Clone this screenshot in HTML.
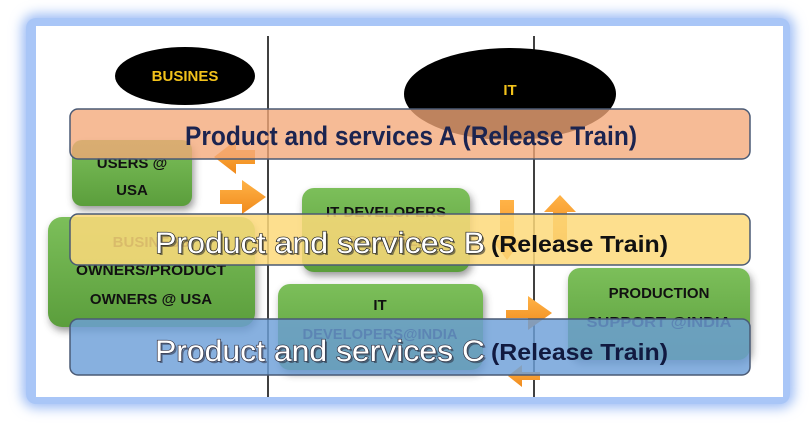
<!DOCTYPE html>
<html><head><meta charset="utf-8"><style>
html,body{margin:0;padding:0;background:#fff;width:812px;height:427px;overflow:hidden}
svg{display:block}
text{font-family:"Liberation Sans",sans-serif;font-weight:bold}
</style></head><body>
<svg width="812" height="427" viewBox="0 0 812 427" xmlns="http://www.w3.org/2000/svg">
<defs>
<filter id="glow" x="-10%" y="-10%" width="120%" height="120%"><feGaussianBlur stdDeviation="6"/></filter>
<filter id="sh" x="-20%" y="-20%" width="140%" height="140%"><feGaussianBlur stdDeviation="4"/></filter>
<linearGradient id="gr" x1="0" y1="0" x2="0" y2="1"><stop offset="0" stop-color="#7cbf5a"/><stop offset="1" stop-color="#5b9e3c"/></linearGradient>
<linearGradient id="or" x1="0" y1="0" x2="0" y2="1"><stop offset="0" stop-color="#ffb347"/><stop offset="1" stop-color="#f08a1c"/></linearGradient>
</defs>
<rect x="22" y="14" width="772" height="394" rx="14" fill="#9cbcf5" filter="url(#glow)"/>
<rect x="26" y="18" width="764" height="386" rx="10" fill="#a9c6f7"/>
<rect x="36" y="26" width="747" height="371" fill="#fff"/>
<line x1="268" y1="36" x2="268" y2="397" stroke="#000" stroke-width="1.5"/>
<line x1="534" y1="36" x2="534" y2="397" stroke="#000" stroke-width="1.5"/>
<ellipse cx="185" cy="76" rx="70" ry="29" fill="#000"/>
<text x="185" y="81" font-size="15" fill="#f2c21b" text-anchor="middle">BUSINES</text>
<ellipse cx="510" cy="94" rx="106" ry="46" fill="#000"/>
<text x="510" y="95" font-size="15" fill="#f2c21b" text-anchor="middle">IT</text>
<g filter="url(#sh)" opacity="0.5">
<rect x="74" y="144" width="120" height="66" rx="10" fill="#333"/>
<rect x="50" y="221" width="207" height="110" rx="14" fill="#333"/>
<rect x="304" y="192" width="168" height="84" rx="12" fill="#333"/>
<rect x="280" y="288" width="205" height="86" rx="12" fill="#333"/>
<rect x="570" y="272" width="182" height="92" rx="12" fill="#333"/>
</g>
<rect x="72" y="140" width="120" height="66" rx="10" fill="url(#gr)"/>
<text x="132" y="168" font-size="15" text-anchor="middle" fill="#111">USERS @</text>
<text x="132" y="195" font-size="15" text-anchor="middle" fill="#111">USA</text>
<rect x="48" y="217" width="207" height="110" rx="14" fill="url(#gr)"/>
<text x="151" y="247" font-size="15" text-anchor="middle" fill="#111">BUSINESS</text>
<text x="151" y="275" font-size="15" text-anchor="middle" fill="#111" textLength="150" lengthAdjust="spacingAndGlyphs">OWNERS/PRODUCT</text>
<text x="151" y="304" font-size="15" text-anchor="middle" fill="#111">OWNERS @ USA</text>
<rect x="302" y="188" width="168" height="84" rx="12" fill="url(#gr)"/>
<text x="386" y="217" font-size="15" text-anchor="middle" fill="#111">IT DEVELOPERS</text>
<text x="386" y="246" font-size="15" text-anchor="middle" fill="#111">@ SWEDEN</text>
<rect x="278" y="284" width="205" height="86" rx="12" fill="url(#gr)"/>
<text x="380" y="310" font-size="15" text-anchor="middle" fill="#111">IT</text>
<text x="380" y="339" font-size="15" text-anchor="middle" fill="#111" textLength="155" lengthAdjust="spacingAndGlyphs">DEVELOPERS@INDIA</text>
<rect x="568" y="268" width="182" height="92" rx="12" fill="url(#gr)"/>
<text x="659" y="298" font-size="15" text-anchor="middle" fill="#111">PRODUCTION</text>
<text x="659" y="327" font-size="15" text-anchor="middle" fill="#111" textLength="145" lengthAdjust="spacingAndGlyphs">SUPPORT @INDIA</text>
<polygon points="255,150 236,150 236,140 214,157 236,174 236,164 255,164" fill="url(#or)"/>
<polygon points="220,190 242,190 242,180 266,197 242,214 242,204 220,204" fill="url(#or)"/>
<polygon points="506,310 528,310 528,296 552,313 528,330 528,318 506,318" fill="url(#or)"/>
<polygon points="500,200 514,200 514,240 522,240 507,260 492,240 500,240" fill="url(#or)"/>
<polygon points="553,240 553,212 544,212 560,195 576,212 567,212 567,240" fill="url(#or)"/>
<polygon points="540,372 522,372 522,365 508,376 522,387 522,380 540,380" fill="url(#or)"/>
<rect x="70" y="109" width="680" height="50" rx="8" fill="#f3a878" fill-opacity="0.78" stroke="#4a5a75" stroke-width="1.5"/>
<text x="185" y="145" font-size="27" fill="#1b2450" textLength="452" lengthAdjust="spacingAndGlyphs">Product and services A (Release Train)</text>
<rect x="70" y="214" width="680" height="51" rx="8" fill="#fdd97a" fill-opacity="0.85" stroke="#4a5a75" stroke-width="1.5"/>
<text x="157" y="255" font-size="30" style="font-weight:normal" fill="#333" opacity="0.6" textLength="330" lengthAdjust="spacingAndGlyphs">Product and services B</text>
<text x="155" y="253" font-size="30" style="font-weight:normal" fill="#fff" stroke="#222" stroke-width="1.3" paint-order="stroke" textLength="330" lengthAdjust="spacingAndGlyphs">Product and services B</text>
<text x="491" y="252" font-size="23" fill="#111" textLength="177" lengthAdjust="spacingAndGlyphs">(Release Train)</text>
<rect x="70" y="319" width="680" height="56" rx="8" fill="#6d9fd8" fill-opacity="0.82" stroke="#4a5a75" stroke-width="1.5"/>
<text x="157" y="363" font-size="30" style="font-weight:normal" fill="#223" opacity="0.5" textLength="330" lengthAdjust="spacingAndGlyphs">Product and services C</text>
<text x="155" y="361" font-size="30" style="font-weight:normal" fill="#fff" stroke="#334" stroke-width="1.3" paint-order="stroke" textLength="330" lengthAdjust="spacingAndGlyphs">Product and services C</text>
<text x="491" y="360" font-size="23" fill="#111a40" textLength="177" lengthAdjust="spacingAndGlyphs">(Release Train)</text>
</svg>
</body></html>
